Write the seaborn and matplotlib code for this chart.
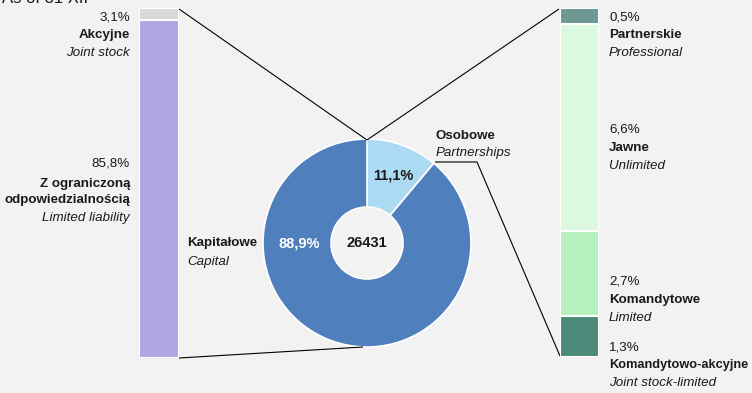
import matplotlib
matplotlib.use("Agg")
import matplotlib.pyplot as plt
import seaborn as sns
import numpy as np
from matplotlib import font_manager

# ---------------- data ----------------
total_count = 26431
main_labels_pl = ["Osobowe", "Kapitałowe"]
main_labels_en = ["Partnerships", "Capital"]
main_values = [11.1, 88.9]

capital_pl = ["Akcyjne", "Z ograniczoną\nodpowiedzialnością"]
capital_en = ["Joint stock", "Limited liability"]
capital_values = [3.1, 85.8]

partner_pl = ["Partnerskie", "Jawne", "Komandytowe", "Komandytowo-akcyjne"]
partner_en = ["Professional", "Unlimited", "Limited", "Joint stock-limited"]
partner_values = [0.5, 6.6, 2.7, 1.3]

title_text = "As of 31 XII"

# ---------------- style ----------------
sns.set_theme(style="white")
names = {f.name for f in font_manager.fontManager.ttflist}
narrow = "Liberation Sans Narrow" if "Liberation Sans Narrow" in names else "Liberation Sans"
plt.rcParams["font.family"] = [narrow, "DejaVu Sans"]

BG = "#f2f2f2"
TXT = "#1a1a1a"
main_colors = ["#acdaf3", "#4f80bd"]
capital_colors = ["#d9d9d9", "#b2a6e2"]
partner_colors = ["#6e9893", "#dcf9df", "#b6f1be", "#4e8a79"]

FS = 9.6

W, H = 752, 393
fig = plt.figure(figsize=(W / 100, H / 100), dpi=100, facecolor=BG)
ax = fig.add_axes([0, 0, 1, 1])
ax.set_facecolor(BG)

def fmt(v):
    return f"{v:.1f}".replace(".", ",") + "%"

def T(x, y, s, **kw):
    kw.setdefault("color", TXT)
    kw.setdefault("fontsize", FS)
    kw.setdefault("va", "center")
    ax.text(x, H - y, s, **kw)

# donut
cx, cy, R, r_in = 367, 243, 104, 36
ax.pie(main_values, colors=main_colors, startangle=90, counterclock=False,
       center=(cx, H - cy), radius=R,
       wedgeprops=dict(width=R - r_in, edgecolor="white", linewidth=1.2))
ax.set_xlim(0, W)
ax.set_ylim(0, H)
ax.set_aspect("auto")
ax.axis("off")

# connector lines
def L(xs, ys):
    ax.plot(xs, [H - y for y in ys], color="black", lw=0.8, solid_capstyle="butt")

L([179, cx], [9, 140])
L([559, cx], [9, 140])
L([179, 363], [358, 347])
L([435, 477, 560], [162, 162, 356])

# stacked bars with seaborn (cumulative overlay)
def stacked(rect, values, colors):
    bax = fig.add_axes(rect)
    cum = np.cumsum(values)
    for i in range(len(values) - 1, -1, -1):
        sns.barplot(x=[0], y=[cum[i]], color=colors[i], width=1.0, ax=bax,
                    edgecolor="white", linewidth=1.5, saturation=1)
    bax.set_xlim(-0.5, 0.5)
    bax.set_ylim(cum[-1], 0)
    bax.set_facecolor("none")
    bax.axis("off")
    return bax

stacked([139 / W, (H - 358) / H, 40 / W, 350 / H], capital_values, capital_colors)
stacked([560 / W, (H - 357) / H, 39 / W, 349 / H], partner_values, partner_colors)

# title (partly cut off at the top, as in the reference)
ax.text(2, H - 3, title_text, fontsize=12, color=TXT, va="baseline", ha="left")

# left labels
T(130, 17, fmt(capital_values[0]), ha="right")
T(130, 35, capital_pl[0], ha="right", fontweight="bold")
T(130, 53, capital_en[0], ha="right", style="italic")
T(130, 164, fmt(capital_values[1]), ha="right")
T(130, 192, capital_pl[1], ha="right", fontweight="bold", linespacing=1.35, multialignment="right")
T(130, 218, capital_en[1], ha="right", style="italic")

# donut labels
T(187, 243, main_labels_pl[1], ha="left", fontweight="bold")
T(187, 262, main_labels_en[1], ha="left", style="italic")
T(299, 243, fmt(main_values[1]), ha="center", fontweight="bold", color="white", fontsize=10.5)
T(cx, 243, str(total_count), ha="center", fontweight="bold", fontsize=10.5)
T(393, 175, fmt(main_values[0]), ha="center", fontweight="bold", fontsize=10.5)
T(436, 136, main_labels_pl[0], ha="left", fontweight="bold")
T(436, 153, main_labels_en[0], ha="left", style="italic")

# right labels
ry = [(17, 35, 53), (130, 148, 166), (282, 300, 318), (347, 365, 383)]
for (a, b, c), v, pl, en in zip(ry, partner_values, partner_pl, partner_en):
    T(609, a, fmt(v), ha="left")
    T(609, b, pl, ha="left", fontweight="bold", fontsize=FS if len(pl) < 15 else 9.2)
    T(609, c, en, ha="left", style="italic")

fig.savefig("out.png", dpi=100, facecolor=BG)
